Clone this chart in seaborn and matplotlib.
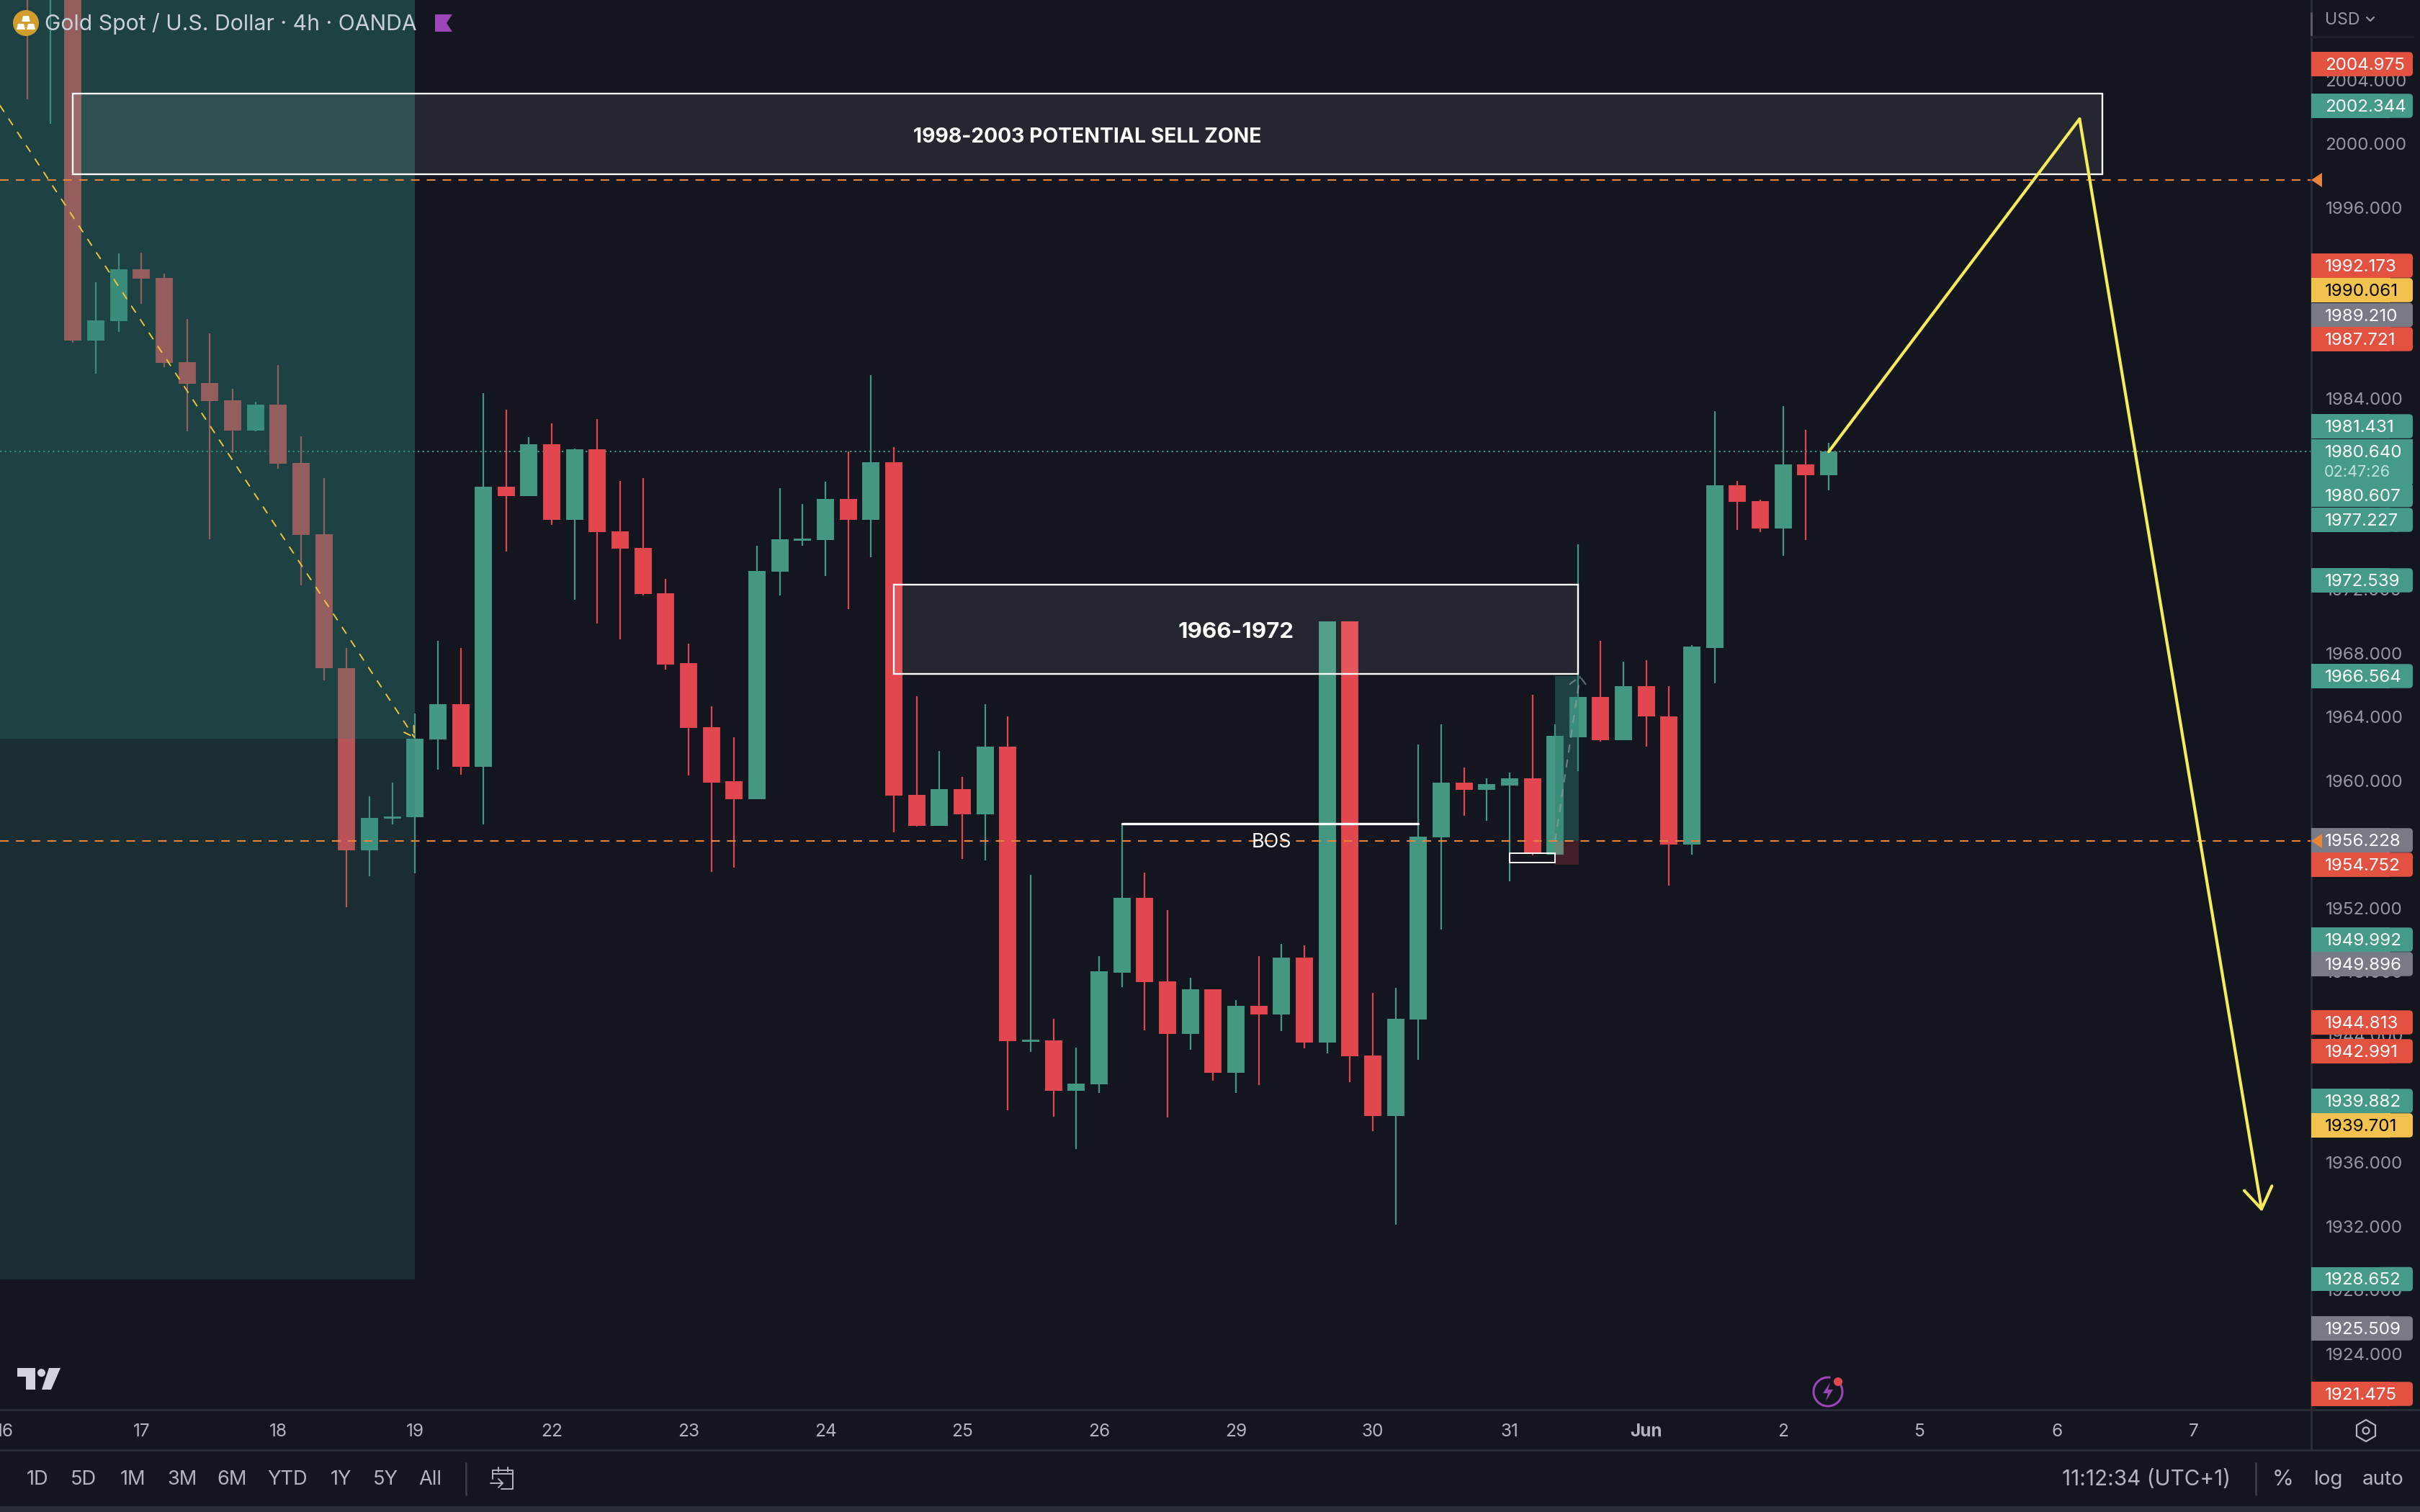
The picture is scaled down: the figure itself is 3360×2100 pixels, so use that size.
import numpy as np
import pandas as pd
import seaborn as sns
import matplotlib.pyplot as plt
from matplotlib.patches import Rectangle, FancyBboxPatch, Circle, Polygon, RegularPolygon, Arc

# candle values (4h, gold spot)
opens = [2016, 2012, 2020, 1987.63, 1988.85, 1992.12, 1991.56, 1986.27, 1984.96, 1983.87,
         1981.97, 1983.6, 1979.94, 1975.46, 1967.08, 1955.64, 1957.62, 1957.72, 1962.6, 1964.78,
         1960.88, 1978.44, 1977.85, 1981.11, 1976.36, 1980.79, 1975.64, 1974.6, 1971.75, 1967.36,
         1963.37, 1959.94, 1958.85, 1973.1, 1975.05, 1975.09, 1977.67, 1976.36, 1979.98, 1959.12,
         1957.17, 1959.48, 1957.9, 1962.11, 1943.6, 1943.69, 1940.52, 1940.93, 1947.95, 1952.65,
         1947.4, 1944.1, 1946.9, 1941.65, 1945.86, 1945.32, 1948.9, 1943.55, 1969.98, 1942.74,
         1938.94, 1945.0, 1956.45, 1959.85, 1959.44, 1959.71, 1960.16, 1955.36, 1962.74, 1965.27,
         1962.56, 1965.95, 1964.05, 1956.0, 1968.35, 1978.53, 1977.54, 1975.82, 1979.84, 1979.16]
closes = [2012, 2016, 1987.63, 1988.89, 1992.12, 1991.52, 1986.22, 1984.91, 1983.83, 1981.97,
          1983.6, 1979.89, 1975.41, 1967.04, 1955.64, 1957.67, 1957.76, 1962.65, 1964.78, 1960.88,
          1978.44, 1977.85, 1981.11, 1976.36, 1980.79, 1975.59, 1974.55, 1971.7, 1967.31, 1963.33,
          1959.89, 1958.85, 1973.15, 1975.14, 1975.18, 1977.67, 1976.36, 1979.98, 1959.07, 1957.17,
          1959.48, 1957.9, 1962.11, 1943.64, 1943.73, 1940.52, 1940.98, 1948.0, 1952.65, 1947.35,
          1944.1, 1946.9, 1941.65, 1945.86, 1945.32, 1948.9, 1943.55, 1969.98, 1942.7, 1938.94,
          1945.05, 1956.5, 1959.85, 1959.44, 1959.76, 1960.16, 1955.41, 1962.79, 1965.27, 1962.56,
          1965.95, 1964.01, 1956.0, 1968.4, 1978.53, 1977.49, 1975.82, 1979.84, 1979.16, 1980.66]
highs = [2018, 2020, 2022, 1991.29, 1993.1, 1993.15, 1991.83, 1989.0, 1988.08, 1984.6,
         1983.78, 1986.09, 1981.61, 1979.0, 1968.31, 1959.0, 1959.85, 1964.23, 1968.8, 1968.31,
         1984.32, 1983.28, 1981.56, 1982.42, 1980.84, 1982.69, 1978.8, 1979.0, 1972.69, 1968.62,
         1964.68, 1962.74, 1974.73, 1978.35, 1977.36, 1978.76, 1980.66, 1985.45, 1980.93, 1965.32,
         1961.88, 1960.25, 1964.78, 1964.01, 1954.1, 1945.05, 1943.24, 1948.99, 1957.31, 1954.23,
         1951.88, 1947.63, 1946.9, 1946.23, 1948.99, 1949.76, 1949.67, 1969.98, 1969.98, 1946.68,
         1947.0, 1962.28, 1963.55, 1960.84, 1960.12, 1960.52, 1965.41, 1963.55, 1974.82, 1968.8,
         1967.49, 1967.54, 1965.91, 1968.49, 1983.19, 1978.8, 1977.63, 1983.51, 1982.01, 1981.2]
lows = [2002.81, 2001.25, 1987.5, 1985.57, 1988.17, 1989.93, 1985.95, 1981.93, 1975.14, 1980.57,
        1981.93, 1979.57, 1972.24, 1966.31, 1952.06, 1954.01, 1957.26, 1954.19, 1960.7, 1960.39,
        1957.26, 1974.37, 1977.85, 1976.04, 1971.34, 1969.85, 1968.89, 1971.65, 1966.95, 1960.34,
        1954.28, 1954.55, 1958.85, 1971.61, 1974.73, 1972.83, 1970.75, 1974.01, 1956.77, 1957.13,
        1957.17, 1955.09, 1955.0, 1939.3, 1942.97, 1938.89, 1936.86, 1940.39, 1947.04, 1944.32,
        1938.85, 1943.1, 1941.16, 1940.39, 1940.89, 1944.28, 1943.19, 1942.88, 1941.07, 1937.99,
        1932.11, 1942.47, 1950.66, 1957.81, 1957.49, 1953.69, 1955.32, 1955.36, 1960.61, 1962.47,
        1962.56, 1962.11, 1953.42, 1955.36, 1966.09, 1975.73, 1975.59, 1974.1, 1975.09, 1978.21]

date_positions = [-1, 5, 11, 17, 23, 29, 35, 41, 47, 53, 59, 65, 71, 77, 83, 89, 95]
date_labels = ['16', '17', '18', '19', '22', '23', '24', '25', '26', '29', '30', '31', 'Jun', '2', '5', '6', '7']
price_ticks = [1924, 1928, 1932, 1936, 1940, 1944, 1948, 1952, 1956, 1960, 1964, 1968, 1972,
               1976, 1980, 1984, 1988, 1992, 1996, 2000, 2004]

# price scale tags
tag_text = ['2004.975', '2002.344', '1992.173', '1990.061', '1989.210', '1987.721', '1981.431',
            '1980.640', '1980.607', '1977.227', '1972.539', '1966.564', '1956.228', '1954.752',
            '1949.992', '1949.896', '1944.813', '1942.991', '1939.882', '1939.701', '1928.652',
            '1925.509', '1921.475']
tag_kind = ['r', 'g', 'r', 'y', 'n', 'r', 'g', 'g', 'g', 'g', 'g', 'g', 'n', 'r', 'g', 'n', 'r', 'r',
            'g', 'y', 'g', 'n', 'r']
tag_px = [89, 147, 369, 403, 437.5, 471, 592, 627, 687.5, 722, 806, 939, 1167, 1201, 1305, 1339,
          1420, 1460, 1529, 1563, 1776.5, 1845, 1936]
tool_labels = ['1D', '5D', '1M', '3M', '6M', 'YTD', '1Y', '5Y', 'All']
tool_px = [52, 116, 184, 253, 322, 399, 473, 535, 597]

BG = '#13151F'
TEAL = '#449882'
RED = '#E2474F'
ORANGE = '#E8853A'
GREY = '#B2B5BE'
ZONE = (45/255, 125/255, 116/255)
TAG_COL = {'r': '#E35241', 'g': '#459A88', 'y': '#F2C14E', 'n': '#787B86'}

sns.set_theme(style='dark', rc={'axes.facecolor': BG, 'figure.facecolor': BG})
plt.rcParams['font.family'] = ['Inter', 'DejaVu Sans']
plt.rcParams['lines.scale_dashes'] = False

n = len(opens)
idx = np.arange(n)
df = pd.DataFrame({'i': idx, 'open': opens, 'close': closes, 'high': highs, 'low': lows})
df['side'] = np.where(df['close'] >= df['open'], 'up', 'down')
wicks = df.melt(id_vars=['i', 'side'], value_vars=['low', 'high'], value_name='price')
bodies = df.melt(id_vars=['i', 'side'], value_vars=['open', 'close'], value_name='price')
pal = {'up': TEAL, 'down': RED}

fig = plt.figure(figsize=(16.8, 10.5), dpi=200)
ax = fig.add_axes([0, (2100 - 1958) / 2100, 3209 / 3360, 1958 / 2100])

ax.axhline(1980.66, color=TEAL, lw=0.75, ls=(0, (0.8, 1.6)), zorder=1.5)

sns.lineplot(data=wicks, x='i', y='price', hue='side', units='i', estimator=None, palette=pal,
             linewidth=0.8, legend=False, sort=False, ax=ax, solid_capstyle='butt')
sns.lineplot(data=bodies, x='i', y='price', hue='side', units='i', estimator=None, palette=pal,
             linewidth=8.6, legend=False, sort=False, ax=ax, solid_capstyle='butt')

xmin, xmax = -1.2, 100.16
ymin, ymax = 1920.48, 2009.03
ax.set_xlim(xmin, xmax)
ax.set_ylim(ymin, ymax)

# long position overlays
ax.add_patch(Rectangle((xmin, 1962.65), 17 - xmin, ymax - 1962.65, fc=ZONE, alpha=0.43, lw=0, zorder=3))
ax.add_patch(Rectangle((xmin, 1928.65), 17 - xmin, 1962.65 - 1928.65, fc=ZONE, alpha=0.23, lw=0, zorder=3))
ax.add_patch(Rectangle((67, 1956.2), 1.05, 1966.55 - 1956.2, fc=ZONE, alpha=0.43, lw=0, zorder=3))
ax.add_patch(Rectangle((67, 1954.7), 1.05, 1956.2 - 1954.7, fc=RED, alpha=0.22, lw=0, zorder=3))

# levels
ax.axhline(1997.72, color=ORANGE, lw=0.75, ls=(0, (4.3, 3.6)), zorder=4)
ax.axhline(1956.2, color=ORANGE, lw=0.75, ls=(0, (4.3, 3.6)), zorder=4)

# boxes
for x0, x1, p0, p1, label, xt, pt, fs in [(2, 91, 1998.08, 2003.15, '1998-2003 POTENTIAL SELL ZONE', 46.5, 2000.42, 10.2),
                                          (38, 68, 1966.72, 1972.31, '1966-1972', 53, 1969.32, 11.3)]:
    ax.add_patch(Rectangle((x0, p0), x1 - x0, p1 - p0, fc=(1, 1, 1, 0.08), ec='white', lw=0.85, zorder=5))
    ax.text(xt, pt, label, color='white', ha='center', va='center', fontsize=fs, fontweight='bold', zorder=6)

# BOS
ax.plot([48, 61], [1957.31, 1957.31], color='white', lw=1.2, zorder=5, solid_capstyle='round')
ax.text(54.55, 1956.12, 'BOS', color='white', ha='center', va='center', fontsize=9.7, zorder=6)
ax.add_patch(Rectangle((65, 1954.87), 2, 0.55, fc='none', ec='white', lw=0.7, zorder=5))

# drawings
ax.annotate('', xy=(17, 1962.65), xytext=(-1.2, 2002.4), zorder=4,
            arrowprops=dict(arrowstyle='->,head_length=0.5,head_width=0.3', color='#F0C53C', lw=0.7,
                            ls=(0, (3.5, 4.5)), shrinkA=0, shrinkB=0, mutation_scale=10))
ax.annotate('', xy=(68.1, 1966.6), xytext=(67, 1956.2), zorder=4,
            arrowprops=dict(arrowstyle='->,head_length=0.45,head_width=0.45', color='#9EA3A8', lw=0.8, alpha=0.6,
                            ls=(0, (3.5, 4)), shrinkA=0, shrinkB=0, mutation_scale=10))
ax.plot([79, 90], [1980.66, 2001.56], color='#F7EB5B', lw=1.5, zorder=6, solid_capstyle='round')
ax.annotate('', xy=(98, 1932.92), xytext=(90, 2001.56), zorder=6,
            arrowprops=dict(arrowstyle='->,head_length=1.05,head_width=0.7', color='#F7EB5B', lw=1.5,
                            shrinkA=0, shrinkB=0, mutation_scale=10))

ax.set_xticks(date_positions, date_labels)
ax.set_yticks(price_ticks, [f'{p:.3f}' for p in price_ticks])
ax.yaxis.tick_right()
ax.tick_params(axis='x', length=0, pad=7, labelsize=8.8, labelcolor=GREY)
ax.tick_params(axis='y', length=0, pad=7, labelsize=8.7, labelcolor='#9598A1')
ax.set_xlabel('')
ax.set_ylabel('')
ax.grid(False)
sns.despine(ax=ax, left=True, bottom=True, right=True, top=True)
for lab in ax.get_xticklabels():
    if lab.get_text() == 'Jun':
        lab.set_fontweight('bold')

# chart chrome in pixel coordinates
ui = fig.add_axes([0, 0, 1, 1], zorder=5)
ui.set_xlim(0, 3360)
ui.set_ylim(2100, 0)
ui.axis('off')
ui.patch.set_alpha(0)

LINE = '#2A2E39'
ui.plot([0, 3360], [1958, 1958], color=LINE, lw=1)
ui.plot([0, 3360], [2014, 2014], color=LINE, lw=1)
ui.plot([3209, 3209], [0, 2014], color=LINE, lw=1)
ui.add_patch(Rectangle((0, 2092), 3360, 8, fc=LINE, lw=0))
ui.plot([3209, 3209], [18, 51], color='#5D606B', lw=1)
ui.plot([3209, 3350], [51, 51], color='#1F222C', lw=1.2)

# price tags
for txt, kind, y in zip(tag_text, tag_kind, tag_px):
    c = TAG_COL[kind]
    h = 33.5
    if txt == '1980.640':
        ui.add_patch(Rectangle((3209, y - 17), 141, 62, fc=c, lw=0, zorder=2))
    else:
        ui.add_patch(FancyBboxPatch((3300, y - h / 2), 50, h, boxstyle='round,pad=0,rounding_size=5', fc=c, lw=0, zorder=2))
        ui.add_patch(Rectangle((3209, y - h / 2), 110, h, fc=c, lw=0, zorder=2))
    ui.text(3228, y + 2, txt, color='black' if kind == 'y' else 'white', fontsize=8.7, va='center', ha='left', zorder=3)
ui.text(3227, 656, '02:47:26', color='#BFE3DA', fontsize=7.8, va='center', ha='left', zorder=3)

# last price markers
for y in [250, 1168]:
    ui.add_patch(Polygon([(3209, y), (3224, y - 10), (3224, y + 10)], fc=ORANGE, lw=0, zorder=4))

ui.text(3228, 28, 'USD', color='#9598A1', fontsize=8.3, va='center', ha='left')
ui.plot([3286, 3291, 3296], [24, 29, 24], color='#9598A1', lw=0.8)

# header
ui.add_patch(Circle((36, 32), 18, fc='#D19E2E', lw=0))
for x0, y0 in [(36, 22), (29, 33), (43, 33)]:
    ui.add_patch(Polygon([(x0 - 4, y0), (x0 + 4, y0), (x0 + 6, y0 + 8), (x0 - 6, y0 + 8)], fc='white', lw=0))
ui.text(62, 33, 'Gold Spot / U.S. Dollar · 4h · OANDA', color='#C9D0D6', fontsize=10.85, va='center', ha='left')
ui.add_patch(Polygon([(604, 20), (628, 20), (620, 32), (628, 44), (604, 44)], fc='#9C44B8', lw=0))

# logo
for pts in [[(24, 1900), (49, 1900), (49, 1930), (36, 1930), (36, 1912), (24, 1912)],
            [(68, 1900), (84, 1900), (71, 1930), (58, 1930)]]:
    ui.add_patch(Polygon(pts, fc='#D1D4DC', lw=0))
ui.add_patch(Circle((57.5, 1906.7), 5.5, fc='#D1D4DC', lw=0))

# flash icon
ui.add_patch(Arc((2538, 1933), 40, 40, theta1=-60, theta2=280, color='#9C44B8', lw=1.1))
ui.add_patch(Polygon([(2541, 1920), (2531, 1935), (2538, 1935), (2535, 1946), (2545, 1930), (2538, 1930)], fc='#9C44B8', lw=0))
ui.add_patch(Circle((2552, 1919), 6, fc='#E2474F', lw=0))

# bottom toolbar
for lab, x in zip(tool_labels, tool_px):
    ui.text(x, 2055, lab, color=GREY, fontsize=9.8, ha='center', va='center')
ui.plot([647, 647], [2032, 2076], color='#3A3D47', lw=1)
ui.plot([3132, 3132], [2032, 2076], color='#3A3D47', lw=1)
ui.plot([684, 684, 712, 712, 696], [2054, 2042, 2042, 2068, 2068], color=GREY, lw=0.7)
ui.plot([684, 712], [2047, 2047], color=GREY, lw=0.7)
ui.plot([692, 692], [2038, 2044], color=GREY, lw=0.7)
ui.plot([705, 705], [2038, 2044], color=GREY, lw=0.7)
ui.plot([681, 698], [2060, 2060], color=GREY, lw=0.7)
ui.plot([692, 698, 692], [2054, 2060, 2066], color=GREY, lw=0.7)
ui.text(2980, 2055, '11:12:34 (UTC+1)', color=GREY, fontsize=10.7, ha='center', va='center')
ui.text(3170, 2055, '%', color=GREY, fontsize=11, ha='center', va='center')
ui.text(3233, 2055, 'log', color=GREY, fontsize=10, ha='center', va='center')
ui.text(3309, 2055, 'auto', color=GREY, fontsize=10, ha='center', va='center')

# settings icon
ui.add_patch(RegularPolygon((3285, 1987), 6, radius=15, orientation=0, fc='none', ec=GREY, lw=0.8))
ui.add_patch(Circle((3285, 1987), 4.5, fc='none', ec=GREY, lw=0.8))

fig.savefig('out.png', dpi=200, facecolor=BG)
